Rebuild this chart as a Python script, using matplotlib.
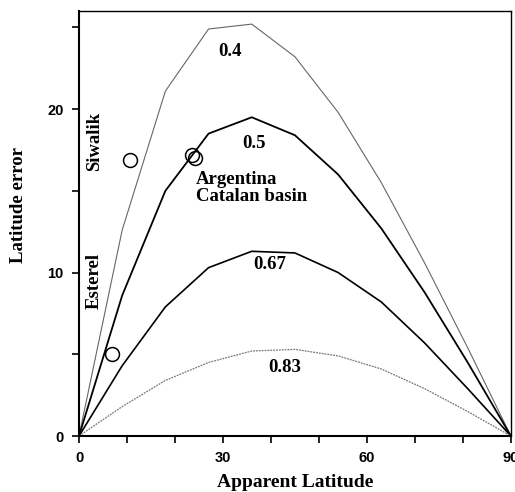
import matplotlib
matplotlib.use("Agg")
import matplotlib.pyplot as plt
from matplotlib.ticker import MultipleLocator

# apparent latitude grid and latitude error for each flattening factor
apparent_lat = [0, 9, 18, 27, 36, 45, 54, 63, 72, 81, 90]
err_040 = [0, 12.6, 21.1, 24.9, 25.2, 23.2, 19.8, 15.5, 10.6, 5.4, 0]
err_050 = [0, 8.6, 15.0, 18.5, 19.5, 18.4, 16.0, 12.7, 8.8, 4.5, 0]
err_067 = [0, 4.3, 7.9, 10.3, 11.3, 11.2, 10.0, 8.2, 5.7, 2.9, 0]
err_083 = [0, 1.8, 3.4, 4.5, 5.2, 5.3, 4.9, 4.1, 2.9, 1.5, 0]

# observed localities
site_lat = [10.6, 23.6, 24.2, 6.8]
site_err = [16.9, 17.2, 17.0, 5.0]

serif = "Liberation Serif"
sans = "Liberation Sans"
fs = 13.5

fig = plt.figure(figsize=(5.15, 4.92), dpi=100)
ax = fig.add_axes([0.1534, 0.1138, 0.8386, 0.8638])

ax.plot(apparent_lat, err_040, color="#666666", lw=0.8)
ax.plot(apparent_lat, err_050, color="black", lw=1.3)
ax.plot(apparent_lat, err_067, color="black", lw=1.2)
ax.plot(apparent_lat, err_083, color="#777777", lw=0.9, ls=(0, (1.5, 0.8)))

ax.plot(site_lat, site_err, "o", ms=10, mfc="none", mec="black", mew=1.1)

def label(x, y, s, **kw):
    ax.text(x, y, s, fontfamily=serif, fontweight="bold", fontsize=fs, **kw)

label(31.4, 23.5, "0.4", ha="center", va="center")
label(36.5, 17.9, "0.5", ha="center", va="center")
label(39.8, 10.5, "0.67", ha="center", va="center")
label(42.9, 4.2, "0.83", ha="center", va="center")
label(24.4, 15.2, "Argentina\nCatalan basin", ha="left", va="center", linespacing=1.0)
label(3.3, 18.0, "Siwalik", rotation=90, ha="center", va="center")
label(3.1, 9.5, "Esterel", rotation=90, ha="center", va="center")

ax.set_xlim(0, 90)
ax.set_ylim(0, 26)
ax.xaxis.set_major_locator(MultipleLocator(30))
ax.xaxis.set_minor_locator(MultipleLocator(10))
ax.yaxis.set_major_locator(MultipleLocator(10))
ax.yaxis.set_minor_locator(MultipleLocator(5))
ax.tick_params(which="both", direction="out", width=1.2, length=5, top=False, right=False)
ax.tick_params(which="major", pad=6)
for lab in ax.get_xticklabels() + ax.get_yticklabels():
    lab.set_fontfamily(sans)
    lab.set_fontweight("bold")
    lab.set_fontsize(10.5)
for side in ["left", "bottom"]:
    ax.spines[side].set_linewidth(1.5)
for side in ["top", "right"]:
    ax.spines[side].set_linewidth(1.0)

fig.text(0.573, 0.02, "Apparent Latitude", fontfamily=serif, fontweight="bold", fontsize=14,
         ha="center", va="center")
fig.text(0.035, 0.583, "Latitude error", fontfamily=serif, fontweight="bold", fontsize=13.5,
         ha="center", va="center", rotation=90)

fig.savefig("out.png", dpi=100)
